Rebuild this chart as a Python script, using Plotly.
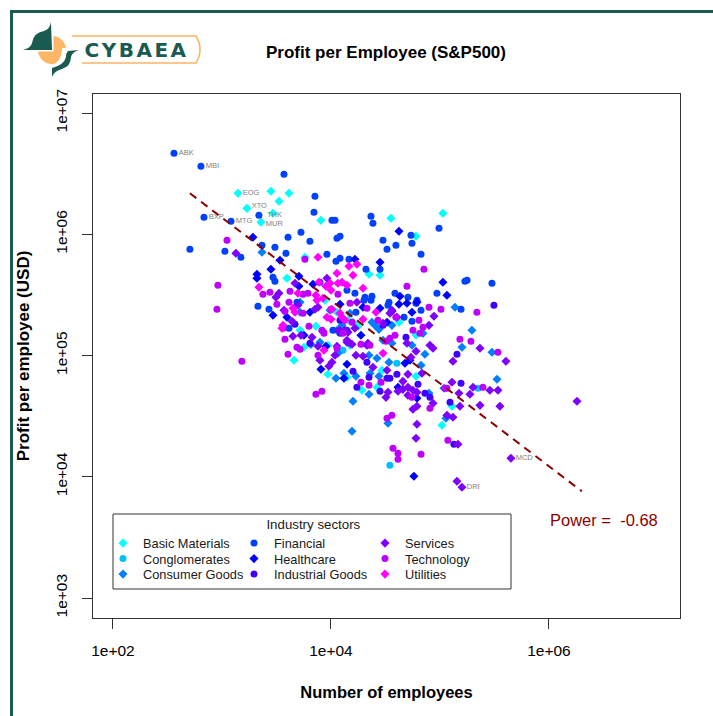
import plotly.graph_objects as go

# All values: log10(number of employees), log10(profit per employee, USD)
basic_materials_x = [3.147,3.449,3.615,3.523,3.229,3.468,3.358,3.908,3.761,4.550,4.780,5.027,4.349,4.450,3.596,3.945,4.055,4.156,3.862,3.716,3.661,3.752,3.972,3.972,4.147,4.202,4.174,4.248,4.624,4.780,4.284,4.780,4.422,4.468,5.018,5.110]
basic_materials_y = [6.338,6.355,6.338,6.272,6.214,6.173,6.099,6.115,5.810,6.132,5.984,6.173,5.670,5.662,5.637,5.456,5.357,5.291,5.241,5.208,4.961,5.068,4.845,5.085,4.821,5.274,5.085,5.241,5.274,5.167,4.713,4.829,4.738,4.878,4.425,4.582]

conglomerates_x = [4.541,4.605,5.349,4.110]
conglomerates_y = [4.095,4.936,4.730,5.043]

consumer_goods_x = [3.367,3.716,3.716,3.899,3.816,3.991,4.174,4.055,4.064,4.046,4.119,4.229,4.202,4.193,4.358,4.440,4.349,4.349,4.422,4.532,4.523,4.826,4.862,4.899,5.037,5.055,4.376,4.404,4.440,4.559,4.477,4.559,4.743,4.844,4.101,5.138,5.293,5.202,5.477,5.523]
consumer_goods_y = [5.852,5.439,5.357,5.109,5.092,5.373,5.348,5.208,5.019,4.812,4.854,4.829,4.623,4.375,4.854,4.829,4.680,5.002,4.977,4.944,4.441,4.920,5.010,4.689,4.730,4.482,5.274,5.249,5.216,5.249,5.126,5.101,5.085,5.183,5.249,5.398,5.208,5.068,5.027,4.804]

financial_x = [2.560,2.807,2.835,3.083,3.339,3.569,3.853,3.844,4.009,4.037,3.725,3.807,4.055,4.083,3.606,3.486,3.367,3.587,3.027,2.706,3.174,3.963,4.083,4.046,4.165,4.321,4.450,4.367,4.385,4.477,4.514,4.596,4.734,4.743,4.826,4.991,5.229,5.248,5.477,4.972,4.220,4.147,4.587,4.312,4.376,4.303,4.367,4.706,4.532,4.523,4.789,4.780,4.826,4.670,4.743,5.193,4.229,3.468,3.486,3.330,3.431,3.899,3.615,4.083,4.018,4.147,3.688]
financial_y = [6.668,6.561,6.140,6.107,6.157,6.495,6.313,6.181,6.115,6.115,6.016,5.942,5.967,5.984,5.975,5.893,5.909,5.843,5.860,5.876,5.810,5.835,5.802,5.777,5.794,5.711,5.711,6.148,6.091,5.950,5.876,5.909,5.992,5.926,5.835,6.049,5.612,5.621,5.596,5.513,5.513,5.538,5.513,5.480,5.489,5.456,5.456,5.480,5.439,5.414,5.456,5.431,5.373,5.315,5.283,5.381,5.357,5.645,5.612,5.406,5.381,5.604,5.225,5.183,5.208,5.208,5.439]

healthcare_x = [3.284,3.532,4.220,4.450,4.624,3.321,3.321,3.449,3.706,3.706,3.835,3.468,3.596,3.807,4.083,3.752,3.954,3.908,4.147,4.119,4.275,4.294,4.450,4.559,4.514,4.633,4.624,4.697,4.789,4.743,5.027,5.064,4.679,4.725,4.615,4.761,4.789]
healthcare_y = [5.975,5.786,5.794,5.769,6.025,5.670,5.637,5.711,5.654,5.571,5.588,5.332,5.315,5.357,5.423,5.167,5.076,4.887,4.928,4.812,5.167,5.398,5.390,5.365,5.274,5.489,5.423,5.431,5.439,5.357,5.604,5.497,4.936,4.961,4.738,4.004,4.647]

industrial_goods_x = [3.670,3.807,4.202,4.238,4.349,4.330,4.514,4.541,4.605,4.450,4.688,4.798,4.862,4.908,4.477,5.092,5.193,5.128,5.156,5.495,4.083]
industrial_goods_y = [5.258,5.101,4.870,4.738,4.821,4.944,4.812,4.812,4.845,4.705,5.150,4.763,4.689,4.655,5.249,4.614,4.771,4.268,5.010,5.414,5.291]

services_x = [3.128,3.670,3.495,3.523,3.697,3.569,3.642,3.853,3.881,3.963,3.651,3.725,3.826,3.926,3.881,4.055,4.147,4.174,4.073,4.156,4.238,3.899,4.037,4.009,3.981,4.229,4.294,4.385,4.514,4.706,4.660,4.523,4.505,4.615,4.660,4.706,4.752,4.706,4.789,4.789,4.752,4.936,4.789,4.780,4.220,4.128,4.147,4.193,4.339,4.330,4.559,4.605,4.541,4.477,4.945,4.899,4.697,4.908,4.936,4.780,4.734,4.835,5.119,5.367,5.605,5.110,5.174,5.303,5.275,5.458,5.532,5.367,5.550,5.183,5.064,5.119,5.165,5.156,5.202,5.651,6.257]
services_y = [5.843,5.596,5.480,5.513,5.414,5.373,5.283,5.381,5.398,5.637,5.159,5.167,5.150,5.200,5.076,5.076,5.126,5.101,5.208,5.192,5.439,4.961,5.002,4.944,4.911,5.002,4.994,4.903,4.878,4.845,4.787,4.697,4.655,4.705,4.721,4.738,4.713,4.672,4.697,4.582,4.557,4.606,4.433,4.318,5.225,5.208,5.109,5.093,5.101,5.085,5.373,5.315,5.348,5.266,5.324,5.249,5.101,5.085,5.060,5.035,4.986,4.854,4.953,5.060,4.953,4.779,4.689,4.738,4.680,4.713,4.713,4.589,4.582,4.582,4.507,4.491,4.268,3.963,3.913,4.153,4.623]

technology_x = [2.963,2.954,3.183,3.046,3.761,3.376,3.440,3.504,3.624,3.615,3.743,3.789,3.743,3.578,4.064,4.174,4.000,3.560,3.798,3.578,3.606,3.688,3.716,3.881,3.862,3.917,3.936,3.917,4.055,4.110,4.193,4.275,4.358,4.275,4.459,4.349,4.559,4.514,4.569,4.615,4.615,4.826,5.073,4.908,5.064,4.330,4.431,4.596,4.853,4.697,4.899,5.009,5.339,4.807,4.752,4.844,4.816,4.587,4.541,4.505,5.183,5.284,5.532,5.394,5.046,4.743]
technology_y = [5.579,5.381,4.953,5.950,5.794,5.505,5.522,5.423,5.530,5.439,5.505,5.513,5.348,5.365,5.505,5.431,5.381,5.225,5.241,5.134,5.010,5.068,5.052,5.002,4.680,4.705,5.183,5.208,5.060,5.183,5.274,5.093,5.085,4.779,4.779,4.755,4.507,4.482,4.235,4.194,4.144,4.186,4.301,4.565,4.730,5.390,5.291,5.315,5.711,5.571,5.398,5.381,5.357,5.291,5.208,5.233,5.183,5.167,5.142,5.118,5.134,5.118,5.027,4.738,4.730,4.655]

utilities_x = [3.881,4.055,4.165,4.238,4.202,4.294,3.339,3.697,3.890,3.991,3.954,4.000,4.064,4.147,4.101,3.862,3.871,3.926,3.651,3.670,4.009,3.963,4.000,4.083,3.560,3.550,3.936,4.413,4.294,4.128,4.477,4.101]
utilities_y = [5.810,5.678,5.736,5.753,5.662,5.555,5.563,5.513,5.604,5.596,5.571,5.538,5.596,5.579,5.604,5.497,5.456,5.472,5.390,5.357,5.381,5.315,5.299,5.348,5.249,5.225,5.043,5.357,5.299,5.291,5.019,5.315]

sector_names = ["Basic Materials", "Conglomerates", "Consumer Goods", "Financial", "Healthcare",
                "Industrial Goods", "Services", "Technology", "Utilities"]
sector_colors = ["#00FFFF", "#00BFFF", "#0080FF", "#0040FF", "#0000FF", "#4000FF", "#8000FF", "#BF00FF", "#FF00FF"]
sector_symbols = ["diamond", "circle", "diamond", "circle", "diamond", "circle", "diamond", "circle", "diamond"]
sector_columns = ["a", "a", "a", "b", "b", "b", "c", "c", "c"]
sector_x = [basic_materials_x, conglomerates_x, consumer_goods_x, financial_x, healthcare_x,
            industrial_goods_x, services_x, technology_x, utilities_x]
sector_y = [basic_materials_y, conglomerates_y, consumer_goods_y, financial_y, healthcare_y,
            industrial_goods_y, services_y, technology_y, utilities_y]

label_names = ["ABK", "MBI", "BXP", "MTG", "THK", "EOG", "XTO", "MUR", "DRI", "MCD"]
label_x = [2.560, 2.807, 2.835, 3.083, 3.370, 3.147, 3.229, 3.358, 5.202, 5.651]
label_y = [6.668, 6.561, 6.140, 6.107, 6.157, 6.338, 6.230, 6.080, 3.913, 4.153]

trend_x = [2.706, 6.302]
trend_y = [6.338, 3.880]

x_ticks = [2, 4, 6]
y_ticks = [3, 4, 5, 6, 7]

FONT = "Liberation Sans"
TEAL = "#1A5B51"
ORANGE = "#FDB566"
W, H = 713, 716
L, R, T, B = 93, 680, 94, 618


def px(x):
    return (x - L) / (R - L)


def py(y):
    return (B - y) / (B - T)


def pix_path(points):
    out = []
    for item in points:
        cmd, coords = item[0], item[1:]
        vals = [f"{px(coords[i]):.4f},{py(coords[i + 1]):.4f}" for i in range(0, len(coords), 2)]
        out.append(cmd + " ".join(vals))
    return " ".join(out) + " Z"


fig = go.Figure()
for name, color, symbol, col, xs, ys in zip(sector_names, sector_colors, sector_symbols, sector_columns, sector_x, sector_y):
    fig.add_trace(go.Scatter(
        x=[10 ** v for v in xs], y=[10 ** v for v in ys], mode="markers", name=name, legendgroup=col,
        marker=dict(color=color, symbol=symbol, size=7, line=dict(width=0)),
    ))

fig.add_trace(go.Scatter(
    x=[10 ** v for v in label_x], y=[10 ** v for v in label_y], mode="markers+text", text=label_names,
    textposition="middle right", textfont=dict(family=FONT, size=7.5, color="#808080"),
    marker=dict(size=6, opacity=0), showlegend=False, hoverinfo="skip",
))
fig.add_trace(go.Scatter(
    x=[10 ** v for v in trend_x], y=[10 ** v for v in trend_y], mode="lines",
    line=dict(color="#8B0000", width=2, dash="8px,6px"), showlegend=False, hoverinfo="skip",
))

shapes = [
    dict(type="rect", xref="paper", yref="paper", x0=px(10), x1=px(W), y0=py(10), y1=py(13), fillcolor=TEAL, line_width=0),
    dict(type="rect", xref="paper", yref="paper", x0=px(10), x1=px(13), y0=py(10), y1=py(H), fillcolor=TEAL, line_width=0),
    # logo
    dict(type="path", xref="paper", yref="paper", line=dict(color=ORANGE, width=1.6),
         path=f"M{px(72):.4f},{py(36):.4f} L{px(196):.4f},{py(36):.4f} Q{px(204):.4f},{py(50):.4f} {px(196):.4f},{py(63):.4f} L{px(71):.4f},{py(63):.4f}"),
    dict(type="circle", xref="paper", yref="paper", x0=px(38), x1=px(66), y0=py(36), y1=py(64), fillcolor=ORANGE, line_width=0),
    dict(type="path", xref="paper", yref="paper", fillcolor="white", line_width=0,
         path=pix_path([("M", 30, 30), ("L", 53.5, 30), ("L", 53.5, 51.5), ("L", 30, 51.5)])),
    dict(type="path", xref="paper", yref="paper", fillcolor=TEAL, line_width=0,
         path=pix_path([("M", 51, 22), ("L", 52, 50), ("L", 23, 50), ("Q", 31, 48, 32, 43), ("Q", 33, 33, 44, 31), ("Q", 50, 29, 51, 22)])),
    dict(type="path", xref="paper", yref="paper", fillcolor="white", line_width=0,
         path=pix_path([("M", 62, 48), ("L", 82, 48), ("L", 82, 68), ("L", 50, 80), ("L", 50, 66), ("Q", 62, 62, 62, 48)])),
    dict(type="path", xref="paper", yref="paper", fillcolor=TEAL, line_width=0,
         path=pix_path([("M", 79, 50), ("L", 68, 51), ("Q", 66, 53, 66, 57), ("Q", 64, 65, 52, 68), ("L", 52, 77),
                        ("Q", 54, 71, 62, 69), ("Q", 71, 66, 71, 57), ("Q", 72, 52, 79, 50)])),
    # legend box
    dict(type="rect", xref="paper", yref="paper", x0=px(113), x1=px(511), y0=py(514), y1=py(589),
         line=dict(color="#333333", width=1), fillcolor="rgba(0,0,0,0)"),
]

annotations = [
    dict(text="<b>CYBAEA</b>", xref="paper", yref="paper", x=px(90), y=py(50), xanchor="left", yanchor="middle",
         showarrow=False, font=dict(family="DejaVu Sans", size=20, color=TEAL)),
    dict(text="Power =\u00a0\u00a0-0.68", xref="paper", yref="paper", x=px(604), y=py(520), xanchor="center", yanchor="middle",
         showarrow=False, font=dict(family=FONT, size=16.5, color="#8B0000")),
]

fig.update_layout(
    width=W, height=H, margin=dict(l=L, r=W - R, t=T, b=H - B, pad=0, autoexpand=False),
    paper_bgcolor="white", plot_bgcolor="white", font=dict(family=FONT, color="#1a1a1a"),
    title=dict(text="<b>Profit per Employee (S&P500)</b>", x=px(386), xref="paper", xanchor="center",
               y=1 - 52 / H, yref="container", yanchor="middle", font=dict(family=FONT, size=17, color="black")),
    xaxis=dict(type="log", range=[1.817, 7.202], tickvals=[10 ** v for v in x_ticks],
               ticktext=[f"1e+{v:02d}" for v in x_ticks], ticks="outside", ticklen=10, tickcolor="#333333",
               showgrid=False, zeroline=False, showline=True, mirror=True, linecolor="#333333", linewidth=1,
               tickfont=dict(size=15.5, color="black"), ticklabelstandoff=8,
               title=dict(text="<b>Number of employees</b>", standoff=28, font=dict(size=16.5, color="black"))),
    yaxis=dict(type="log", range=[2.835, 7.157], tickvals=[10 ** v for v in y_ticks],
               ticktext=[f"1e+{v:02d}" for v in y_ticks], ticks="outside", ticklen=10, tickcolor="#333333",
               showgrid=False, zeroline=False, showline=True, mirror=True, linecolor="#333333", linewidth=1,
               tickfont=dict(size=15.5, color="black"), tickangle=-90, ticklabelstandoff=9,
               title=dict(text="<b>Profit per employee (USD)</b>", standoff=18, font=dict(size=17, color="black"))),
    shapes=shapes, annotations=annotations,
    legend=dict(orientation="h", x=px(103), y=py(512), xanchor="left", yanchor="top", bgcolor="rgba(0,0,0,0)",
                borderwidth=0, itemwidth=30, entrywidth=86, entrywidthmode="pixels", tracegroupgap=0,
                itemsizing="trace", font=dict(family=FONT, size=12.8, color="#1a1a1a"), itemclick=False,
                itemdoubleclick=False,
                title=dict(text="Industry sectors", side="top center", font=dict(family=FONT, size=13.3, color="#1a1a1a"))),
)

post = """
document.body.style.margin='0';
document.documentElement.style.overflow='hidden';
document.querySelectorAll('text').forEach(function(t){ if(t.textContent==='CYBAEA'){ t.style.letterSpacing='2.5px'; } });
document.querySelectorAll('.legend .groups').forEach(function(g){
  var y0 = null;
  g.querySelectorAll('.traces').forEach(function(tr, i){
    var m = /translate\\(\\s*([-\\d.]+)[ ,]+([-\\d.]+)\\s*\\)/.exec(tr.getAttribute('transform'));
    if(!m) return;
    if(y0 === null){ y0 = parseFloat(m[2]); }
    tr.setAttribute('transform', 'translate(' + m[1] + ',' + (y0 + i * 15.5 - 1) + ')');
  });
});
var lt = document.querySelector('.legend .legendtitletext');
if(lt){ lt.setAttribute('x', parseFloat(lt.getAttribute('x')) + 14); }
"""
fig.write_html("out.html", post_script=post, config=dict(displayModeBar=False))
